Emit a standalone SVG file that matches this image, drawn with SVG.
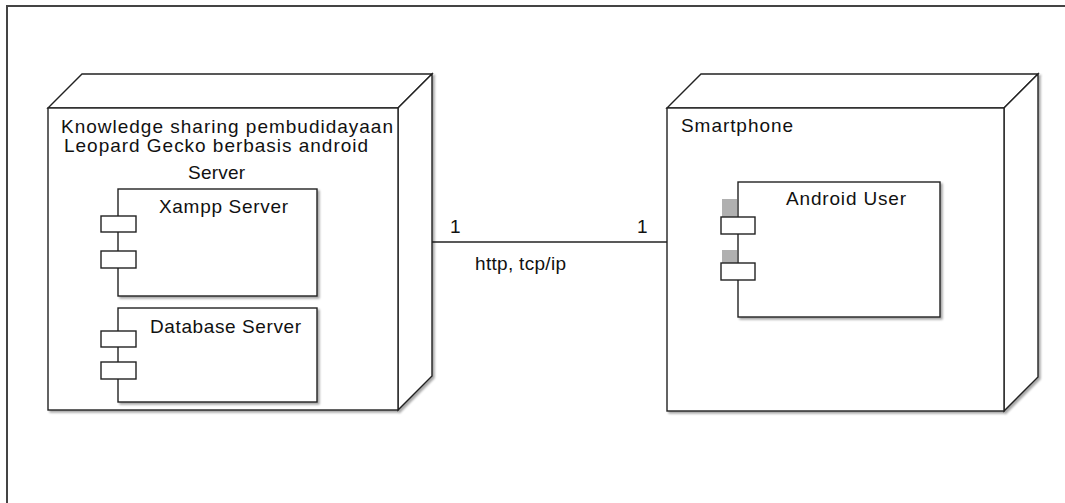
<svg xmlns="http://www.w3.org/2000/svg" width="1065" height="503" viewBox="0 0 1065 503">
<defs>
<filter id="sh" x="-5%" y="-5%" width="115%" height="115%">
<feGaussianBlur in="SourceAlpha" stdDeviation="1.2"/>
<feOffset dx="2" dy="2" result="b"/>
<feComponentTransfer><feFuncA type="linear" slope="0.35"/></feComponentTransfer>
<feMerge><feMergeNode/><feMergeNode in="SourceGraphic"/></feMerge>
</filter>
</defs>
<style>
.ln{fill:#fff;stroke:#222;stroke-width:1.4}
.nf{fill:none;stroke:#222;stroke-width:1.4}
.t{font-family:"Liberation Sans",Arial,sans-serif;font-size:19px;fill:#111}
.frame{fill:none;stroke:#444;stroke-width:2}
</style>
<rect width="1065" height="503" fill="#fff"/>
<path class="frame" d="M7,503 V6 H1065"/>

<g id="connectors">
<line class="nf" x1="432" y1="242" x2="667" y2="242"/>
<text class="t" x="450" y="233">1</text>
<text class="t" x="637" y="233">1</text>
<text class="t" x="475" y="270" textLength="91" lengthAdjust="spacing">http, tcp/ip</text>
</g>

<g id="server-node">
<g filter="url(#sh)">
<polygon class="ln" points="48,108 82,74 432,74 398,108"/>
<polygon class="ln" points="398,108 432,74 432,376 398,410"/>
<rect class="ln" x="48" y="108" width="350" height="302"/>
</g>
<text class="t" x="61" y="133" textLength="332" lengthAdjust="spacing">Knowledge sharing pembudidayaan</text>
<text class="t" x="64" y="152" textLength="304" lengthAdjust="spacing">Leopard Gecko berbasis android</text>
<text class="t" x="188" y="179" textLength="57" lengthAdjust="spacing">Server</text>
</g>

<g id="xampp-server">
<rect class="ln" x="118" y="189" width="199" height="107" filter="url(#sh)"/>
<rect class="ln" x="101" y="216" width="35" height="16"/>
<rect class="ln" x="101" y="251" width="35" height="17"/>
<text class="t" x="159" y="213" textLength="129" lengthAdjust="spacing">Xampp Server</text>
</g>

<g id="database-server">
<rect class="ln" x="118" y="308" width="199" height="94" filter="url(#sh)"/>
<rect class="ln" x="101" y="331" width="35" height="16"/>
<rect class="ln" x="101" y="362" width="35" height="17"/>
<text class="t" x="150" y="333" textLength="151" lengthAdjust="spacing">Database Server</text>
</g>

<g id="smartphone-node">
<g filter="url(#sh)">
<polygon class="ln" points="667,108 701,74 1038,74 1004,108"/>
<polygon class="ln" points="1004,108 1038,74 1038,377 1004,411"/>
<rect class="ln" x="667" y="108" width="337" height="303"/>
</g>
<text class="t" x="681" y="132" textLength="112" lengthAdjust="spacing">Smartphone</text>
</g>

<g id="android-user">
<rect class="ln" x="738" y="182" width="202" height="135" filter="url(#sh)"/>
<rect x="722" y="199" width="15" height="18" fill="#b0b0b0"/>
<rect x="722" y="250" width="15" height="13" fill="#b0b0b0"/>
<rect class="ln" x="721" y="217" width="34" height="17"/>
<rect class="ln" x="721" y="263" width="34" height="17"/>
<text class="t" x="786" y="205" textLength="120" lengthAdjust="spacing">Android User</text>
</g>
</svg>
